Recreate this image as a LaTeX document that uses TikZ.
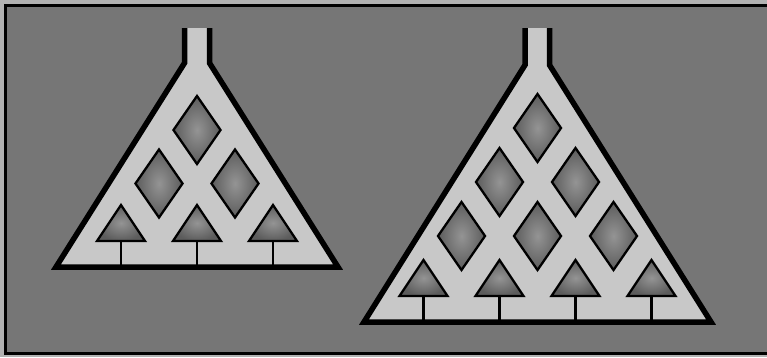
\documentclass[tikz,border=0pt]{standalone}
\usetikzlibrary{shapes.geometric}
\definecolor{panel}{RGB}{118,118,118}
\definecolor{rim}{RGB}{178,178,178}
\definecolor{body}{RGB}{200,200,200}
\definecolor{paneout}{RGB}{92,92,92}
\definecolor{panein}{RGB}{148,148,148}

\begin{document}
\begin{tikzpicture}[x=1pt,y=-1pt,
  shell/.style={draw=black,line width=5.5pt,fill=body},
  pane/.style={diamond,draw=black,line width=2.3pt,inner sep=0pt,
    minimum width=48pt,minimum height=69pt,inner color=panein,outer color=paneout},
  cup/.style={draw=black,line width=2.3pt,line join=miter,inner color=panein,outer color=paneout},
  wire/.style={draw=black,line width=2.2pt}]
\useasboundingbox (0,0) rectangle (767,357);
% Frame
\fill[rim] (0,0) rectangle (767,357);
\draw[fill=panel,line width=3pt] (5.5,5.5) rectangle (772,353.5);
% Small funnel
\draw[shell] (184.5,28) -- (184.5,63) -- (56,267) -- (338,267) -- (209.5,63) -- (209.5,28);
\coordinate (lfloor) at (197,267);
\foreach \k in {0,1}
  \foreach \j in {0,...,\k}
    \node[pane] (l-\k-\j) at ({197+38*(2*\j-\k)},{130+53.5*\k}) {};
\foreach \j in {0,1,2}{
  \pgfmathsetmacro{\cx}{197+38*(2*\j-2)}
  \coordinate (lt\j) at (\cx,241);
  \draw[wire] (lt\j) -- (lt\j |- lfloor);
  \path[cup] (\cx-24,241) -- (\cx,205) -- (\cx+24,241) -- cycle;
}
% Large funnel
\draw[shell] (525,28) -- (525,65) -- (364,322) -- (711,322) -- (549.5,65) -- (549.5,28);
\coordinate (rfloor) at (537,322);
\foreach \k in {0,1,2}
  \foreach \j in {0,...,\k}
    \node[pane] (r-\k-\j) at ({537.5+38*(2*\j-\k)},{128+54*\k}) {};
\foreach \j in {0,...,3}{
  \pgfmathsetmacro{\cx}{537.5+38*(2*\j-3)}
  \coordinate (rt\j) at (\cx,296);
  \draw[wire] (rt\j) -- (rt\j |- rfloor);
  \path[cup] (\cx-24,296) -- (\cx,260) -- (\cx+24,296) -- cycle;
}
\end{tikzpicture}
\end{document}
